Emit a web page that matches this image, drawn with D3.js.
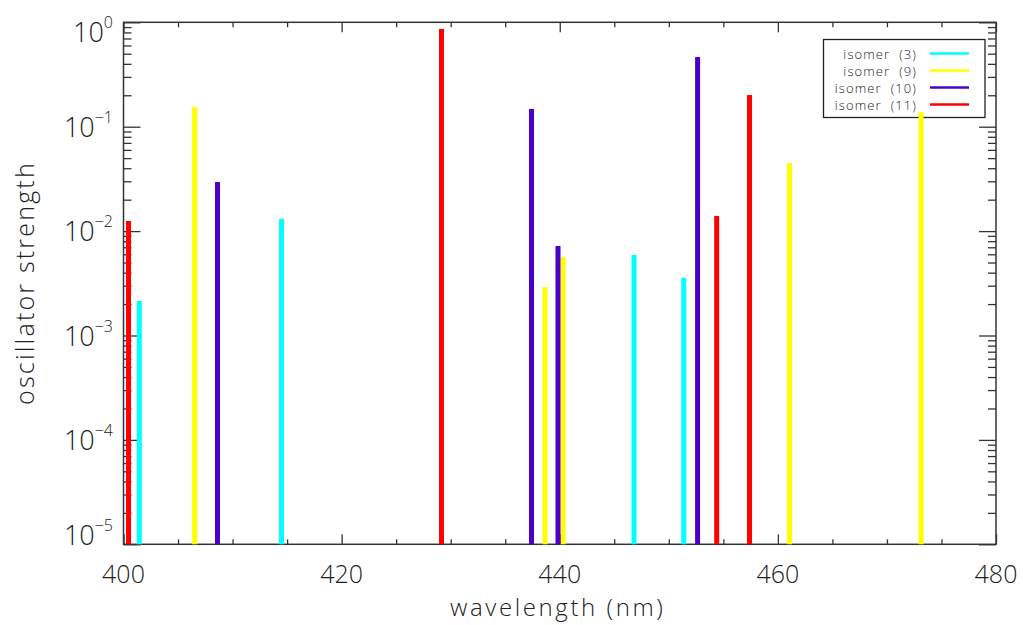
<!DOCTYPE html>
<html><head><meta charset="utf-8">
<script src="https://cdn.jsdelivr.net/npm/d3@7"></script>
<style>
body{margin:0;background:#fff;}
text{font-family:"Open Sans","DejaVu Sans",sans-serif;font-weight:300;fill:#222;}
</style></head>
<body><svg id="chart" width="1023" height="625"></svg>
<script>
// ---- data ----
const seriesNames = ["isomer (3)", "isomer (9)", "isomer (10)", "isomer (11)"];
const seriesColors = ["#00ffff", "#ffff00", "#4a00c8", "#ff0000"];
const wl3  = [401.45, 414.49, 446.81, 451.37];
const f3   = [0.00214, 0.0131, 0.0059, 0.00356];
const wl9  = [406.53, 438.65, 440.30, 461.07, 473.13];
const f9   = [0.154, 0.00291, 0.00565, 0.0449, 0.138];
const wl10 = [408.62, 437.41, 439.84, 452.64];
const f10  = [0.0295, 0.148, 0.0072, 0.465];
const wl11 = [400.46, 429.16, 454.39, 457.40];
const f11  = [0.0125, 0.863, 0.01396, 0.201];
const xMajorTicks = [400, 420, 440, 460, 480];
const yExponents = [0, -1, -2, -3, -4, -5];

const series = [
  {wl: wl3, f: f3}, {wl: wl9, f: f9}, {wl: wl10, f: f10}, {wl: wl11, f: f11}
];

const svg = d3.select("#chart");
const L = 123.5, R = 996, T = 22.3, B = 544.3;
const x = d3.scaleLinear().domain([400, 480]).range([L, R]);
const y = d3.scaleLog().domain([1e-5, 1]).range([B, T]);

const xMinor = d3.range(400, 481, 5).filter(v => v % 20 !== 0);
const yMinor = [];
for (let e = -5; e < 0; e++) for (let k = 2; k <= 9; k++) yMinor.push(k * Math.pow(10, e));
const yMajor = yExponents.map(e => Math.pow(10, e));

function styleAxis(g) {
  g.select(".domain").remove();
  g.selectAll(".tick line").attr("stroke", "#333").attr("stroke-width", 1.3);
  g.selectAll(".tick text").remove();
}
// bottom
svg.append("g").attr("transform", `translate(0,${B})`)
  .call(d3.axisBottom(x).tickValues(xMajorTicks).tickSize(-10)).call(styleAxis);
svg.append("g").attr("transform", `translate(0,${B})`)
  .call(d3.axisBottom(x).tickValues(xMinor).tickSize(-5)).call(styleAxis);
// top
svg.append("g").attr("transform", `translate(0,${T})`)
  .call(d3.axisTop(x).tickValues(xMajorTicks).tickSize(-10)).call(styleAxis);
svg.append("g").attr("transform", `translate(0,${T})`)
  .call(d3.axisTop(x).tickValues(xMinor).tickSize(-5)).call(styleAxis);
// left
svg.append("g").attr("transform", `translate(${L},0)`)
  .call(d3.axisLeft(y).tickValues(yMajor).tickSize(-17)).call(styleAxis);
svg.append("g").attr("transform", `translate(${L},0)`)
  .call(d3.axisLeft(y).tickValues(yMinor).tickSize(-8)).call(styleAxis);
// right
svg.append("g").attr("transform", `translate(${R},0)`)
  .call(d3.axisRight(y).tickValues(yMajor).tickSize(-17)).call(styleAxis);
svg.append("g").attr("transform", `translate(${R},0)`)
  .call(d3.axisRight(y).tickValues(yMinor).tickSize(-8)).call(styleAxis);

// frame
svg.append("rect").attr("x", L).attr("y", T).attr("width", R - L).attr("height", B - T)
  .attr("fill", "none").attr("stroke", "#333").attr("stroke-width", 1.5);

// legend box (drawn before bars)
const lg = svg.append("g");
lg.append("rect").attr("x", 823.5).attr("y", 39.5).attr("width", 161.5).attr("height", 78)
  .attr("fill", "#fff").attr("stroke", "#222").attr("stroke-width", 1.3);
seriesNames.forEach((n, i) => {
  const yy = 53.5 + i * 17;
  lg.append("text").attr("x", 917).attr("y", yy + 5).attr("text-anchor", "end")
    .attr("font-size", 13).attr("font-weight", 400).attr("letter-spacing", 1.1)
    .style("white-space", "pre").text(n.replace(" ", "  "));
  lg.append("line").attr("x1", 930).attr("x2", 969).attr("y1", yy).attr("y2", yy)
    .attr("stroke", seriesColors[i]).attr("stroke-width", 2.5);
});

// bars
series.forEach((s, i) => {
  svg.append("g").selectAll("rect").data(s.wl.map((w, j) => ({w, f: s.f[j]})))
    .join("rect")
    .attr("x", d => x(d.w) - 2.5).attr("width", 5)
    .attr("y", d => y(d.f)).attr("height", d => y(1e-5) - y(d.f))
    .attr("fill", seriesColors[i]);
});

// x tick labels
svg.append("g").selectAll("text").data(xMajorTicks).join("text")
  .attr("x", d => x(d)).attr("y", 583).attr("text-anchor", "middle")
  .attr("font-size", 25).text(d => d);

// y tick labels
const yl = svg.append("g");
yExponents.forEach((e, i) => {
  let base = y(Math.pow(10, e)) + 10;
  if (i === 0) base = y(1) + 20;
  if (i === yExponents.length - 1) base = y(1e-5) + 1;
  const t = yl.append("text").attr("x", 113).attr("y", base).attr("text-anchor", "end")
    .attr("font-size", 27);
  t.append("tspan").text("10");
  t.append("tspan").attr("dy", -14).attr("font-size", 16).text(e === 0 ? "0" : "\u2212" + (-e));
});

// axis titles
svg.append("text").attr("x", (L + R) / 2 - 2).attr("y", 616).attr("text-anchor", "middle")
  .attr("font-size", 24).attr("letter-spacing", 2.6).text("wavelength (nm)");
svg.append("text").attr("transform", "translate(34,283) rotate(-90)").attr("text-anchor", "middle")
  .attr("font-size", 25).attr("letter-spacing", 2.2).text("oscillator strength");
</script></body></html>
